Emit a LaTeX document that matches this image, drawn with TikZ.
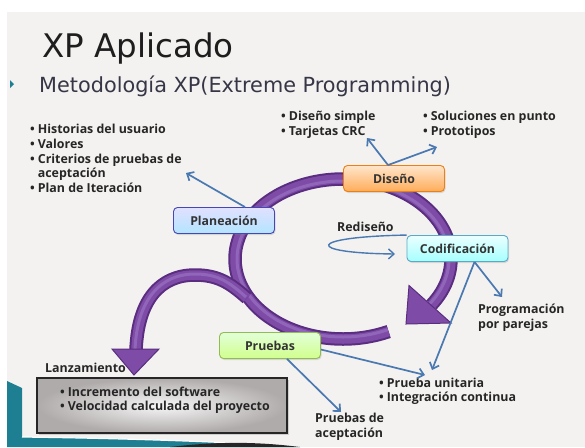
\documentclass[tikz,border=0pt]{standalone}
\usepackage{fontspec}
\setmainfont{Open Sans}
\newfontfamily\titlefont{DejaVu Sans}
\usetikzlibrary{arrows.meta,shadows,calc}
\definecolor{bgray}{HTML}{F3F2F0}
\definecolor{arrowblue}{HTML}{4A78B0}
\definecolor{purpledark}{HTML}{5A2D80}
\definecolor{purplemain}{HTML}{7E4CA6}
\definecolor{purplelight}{HTML}{9A70C2}
\definecolor{tealdeco}{HTML}{1E7F92}
\definecolor{titlecol}{HTML}{1E1E1E}
\definecolor{subcol}{HTML}{363646}
\begin{document}
\begin{tikzpicture}[x=1pt,y=-1pt,
  phase/.style={draw, rounded corners=4pt, minimum width=101pt, minimum height=26pt,
    line width=0.9pt, inner sep=0pt, font=\fontsize{12.3}{15}\selectfont\bfseries,
    text=black!80, drop shadow={opacity=0.25, shadow xshift=1pt, shadow yshift=-1.5pt}},
  barrow/.style={draw=arrowblue, line width=1.7pt, -{Straight Barb[length=5.5pt,width=10pt]}},
  lst/.style={anchor=base west, inner sep=0pt, font=\fontsize{12.4}{14.8}\selectfont\bfseries,
    text=black!85, align=left},
  ringouter/.style={line width=13.5pt, draw=purpledark},
  ringinner/.style={line width=9.5pt, draw=purplemain},
  ringhigh/.style={line width=3pt, draw=purplelight, opacity=0.7},
  headstyle/.style={fill=purplemain, draw=purpledark, line width=1pt, line join=miter}
]
\useasboundingbox (0,0) rectangle (585,447);
% background
\fill[white] (0,0) rectangle (585,447);
\fill[bgray] (7,12) rectangle (585,447);
% bottom-left decoration
\fill[tealdeco] (7,381) -- (22,388) -- (22,437) .. controls (100,438) and (220,441) .. (300,447) -- (7,447) -- cycle;
\draw[white, line width=1.2pt] (22,437) .. controls (100,438) and (220,441) .. (300,447);
\fill[black!85] (170,447) .. controls (220,441) and (260,442) .. (300,447) -- cycle;

% title
\node[anchor=base west, inner sep=0pt, font=\titlefont\fontsize{32.5}{36}\selectfont, text=titlecol] (title) at (42,57) {XP Aplicado};
\fill[tealdeco] (10,80) -- (14,84) -- (10,88) -- cycle;
\node[anchor=base west, inner sep=0pt, font=\titlefont\fontsize{20.8}{24}\selectfont, text=subcol] (sub) at (39,92) {Metodología XP(Extreme Programming)};

% ring
\draw[ringouter] plot[domain=65:395, samples=120, smooth] ({343+108*cos(\x)},{259+80*sin(\x)});
\draw[ringinner] plot[domain=65:395, samples=120, smooth] ({343+108*cos(\x)},{259+80*sin(\x)});
\draw[ringhigh] plot[domain=65:395, samples=120, smooth] ({343+106*cos(\x)},{259+78*sin(\x)});
\filldraw[headstyle] (409,285.5) -- (451,323) -- (406,324) -- cycle;
% S-curve to release
\draw[ringouter] (247,298) .. controls (230,283) and (218,275) .. (195,275) .. controls (160,275) and (138,300) .. (136,350);
\draw[ringinner] (247,298) .. controls (230,283) and (218,275) .. (195,275) .. controls (160,275) and (138,300) .. (136,350);
\draw[ringhigh] (246,297) .. controls (229,282) and (218,274) .. (195,274) .. controls (160,274) and (137,300) .. (135,350);
\filldraw[headstyle] (112,349) -- (159,349) -- (134,375) -- cycle;

% phase nodes
\node[phase, top color=blue!12!white, bottom color=blue!35!cyan!30!white, draw=blue!45!gray] (pla) at (224,220.5) {Planeación};
\node[phase, top color=orange!20!white, bottom color=orange!65!white, draw=orange!70!brown] (dis) at (394,178.5) {Diseño};
\node[phase, top color=cyan!8!white, bottom color=cyan!35!white, draw=cyan!55!gray] (cod) at (457.5,248.5) {Codificación};
\node[phase, top color=yellow!25!green!15!white, bottom color=yellow!60!green!45!white, draw=yellow!50!green!70!gray] (pru) at (270,345.5) {Pruebas};

% release box
\node[draw=black!85, line width=1.6pt, minimum width=250pt, minimum height=55pt, inner sep=0pt,
  inner color=black!3, outer color=red!6!black!33,
  drop shadow={opacity=0.3, shadow xshift=1.5pt, shadow yshift=-1.5pt}] (lan) at (162,405.5) {};
\node[lst] (lantxt) at (45,372) {Lanzamiento};
\node[lst] (lanlist) at (60,396) {\begin{tabular}[t]{@{}l@{\hspace{3pt}}l@{}}\textbullet & Incremento del software\\ \textbullet & Velocidad calculada del proyecto\end{tabular}};

% text blocks
\node[lst] (plalist) at (30,133.5) {\begin{tabular}[t]{@{}l@{\hspace{3pt}}l@{}}\textbullet & Historias del usuario\\ \textbullet & Valores\\ \textbullet & Criterios de pruebas de\\ & aceptación\\ \textbullet & Plan de Iteración\end{tabular}};
\node[lst] (dislistA) at (281,120.5) {\begin{tabular}[t]{@{}l@{\hspace{3pt}}l@{}}\textbullet & Diseño simple\\ \textbullet & Tarjetas CRC\end{tabular}};
\node[lst] (dislistB) at (423,120.5) {\begin{tabular}[t]{@{}l@{\hspace{3pt}}l@{}}\textbullet & Soluciones en punto\\ \textbullet & Prototipos\end{tabular}};
\node[lst] (red) at (337,231.5) {Rediseño};
\node[lst] (prog) at (478,313.5) {\begin{tabular}[t]{@{}l@{}}Programación\\ por parejas\end{tabular}};
\node[lst] (unit) at (379,387) {\begin{tabular}[t]{@{}l@{\hspace{3pt}}l@{}}\textbullet & Prueba unitaria\\ \textbullet & Integración continua\end{tabular}};
\node[lst] (acep) at (315,422.5) {\begin{tabular}[t]{@{}l@{}}Pruebas de\\ aceptación\end{tabular}};

% arrow targets
\coordinate (tpla) at (186,173);
\coordinate (tcrc) at (367,138);
\coordinate (tproto) at (437,147);
\coordinate (tprog) at (502,297);
\coordinate (tunitA) at (432,370);
\coordinate (tunitB) at (425,375);
\coordinate (tacep) at (341,412);
\coordinate (tred) at (395,254);

% blue arrows
\draw[barrow] ([xshift=21pt]pla.north) -- (tpla);
\draw[barrow] ([xshift=-6pt]dis.north) -- (tcrc);
\draw[barrow] ([xshift=-6pt]dis.north) -- (tproto);
\draw[barrow] ([xshift=17pt]cod.south) -- (tprog);
\draw[barrow] ([xshift=17pt]cod.south) -- (tunitA);
\draw[barrow] ([yshift=-4pt]pru.east) -- (tunitB);
\draw[barrow] ([xshift=17pt]pru.south) -- (tacep);
\draw[barrow, line width=1.4pt] (cod.north west) .. controls (305,237) and (305,253) .. (tred);
\end{tikzpicture}
\end{document}
